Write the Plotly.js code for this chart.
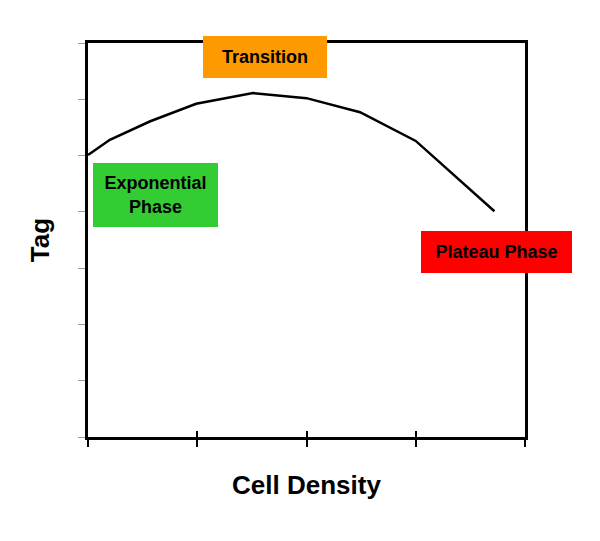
<!DOCTYPE html>
<html>
<head>
<meta charset="utf-8">
<script src="https://cdn.plot.ly/plotly-3.0.1.min.js"></script>
<style>
  html, body { margin: 0; padding: 0; background: #ffffff; }
  #chart { width: 600px; height: 541px; }
</style>
</head>
<body>
<div id="chart"></div>
<script>
// curve (x in tick units, y in tick units)
const densityX = [0, 0.2, 0.57, 0.99, 1.51, 2.0, 2.49, 3.0, 3.72];
const tagY = [5.01, 5.28, 5.61, 5.92, 6.11, 6.02, 5.77, 5.26, 4.01];

const phaseLabels = ["Transition", "Exponential<br>Phase", "Plateau Phase"];
const phaseColors = ["#ff9900", "#33cc33", "#ff0000"];

const FONT = "Liberation Sans, Arial, sans-serif";

const curveTrace = {
  x: densityX,
  y: tagY,
  type: "scatter",
  mode: "lines",
  line: { color: "#000000", width: 2.5 },
  hoverinfo: "skip",
  showlegend: false,
};

// dummy trace on the overlay axis so its inside ticks show
const overlayTrace = {
  x: [0, 4],
  y: [0, 0],
  xaxis: "x2",
  mode: "lines",
  line: { width: 0 },
  hoverinfo: "skip",
  showlegend: false,
};

function phaseBox(i, x, y, w, h) {
  return {
    text: "<b>" + phaseLabels[i] + "</b>",
    x: x,
    y: y,
    xref: "x",
    yref: "y",
    showarrow: false,
    bgcolor: phaseColors[i],
    width: w,
    height: h,
    borderpad: 0,
    borderwidth: 0,
    font: { family: FONT, size: 18, color: "#000000" },
    align: "center",
  };
}

const layout = {
  width: 600,
  height: 541,
  paper_bgcolor: "#ffffff",
  plot_bgcolor: "#ffffff",
  margin: { l: 88, r: 75, t: 43, b: 104 },
  font: { family: FONT, color: "#000000" },
  xaxis: {
    range: [0, 4],
    dtick: 1,
    showgrid: false,
    zeroline: false,
    showline: true,
    mirror: true,
    linecolor: "#000000",
    linewidth: 3,
    ticks: "outside",
    ticklen: 7,
    tickwidth: 2,
    tickcolor: "#000000",
    showticklabels: false,
    title: {
      text: "<b>Cell Density</b>",
      font: { family: FONT, size: 26, color: "#000000" },
      standoff: 30,
    },
  },
  xaxis2: {
    overlaying: "x",
    side: "bottom",
    range: [0, 4],
    dtick: 1,
    showgrid: false,
    zeroline: false,
    showline: false,
    ticks: "inside",
    ticklen: 6,
    tickwidth: 2,
    tickcolor: "#000000",
    showticklabels: false,
    anchor: "y",
  },
  yaxis: {
    range: [0, 7],
    dtick: 1,
    showgrid: false,
    zeroline: false,
    showline: true,
    mirror: true,
    linecolor: "#000000",
    linewidth: 3,
    ticks: "outside",
    ticklen: 7,
    tickwidth: 1,
    tickcolor: "#999999",
    showticklabels: false,
    title: {
      text: "<b>Tag</b>",
      font: { family: FONT, size: 26, color: "#000000" },
      standoff: 21,
    },
  },
  annotations: [
    phaseBox(0, 1.62, 6.75, 124, 42),
    phaseBox(1, 0.62, 4.30, 125, 64),
    phaseBox(2, 3.74, 3.29, 151, 42),
  ],
};

Plotly.newPlot("chart", [curveTrace, overlayTrace], layout, {
  displayModeBar: false,
  staticPlot: true,
});
</script>
</body>
</html>
